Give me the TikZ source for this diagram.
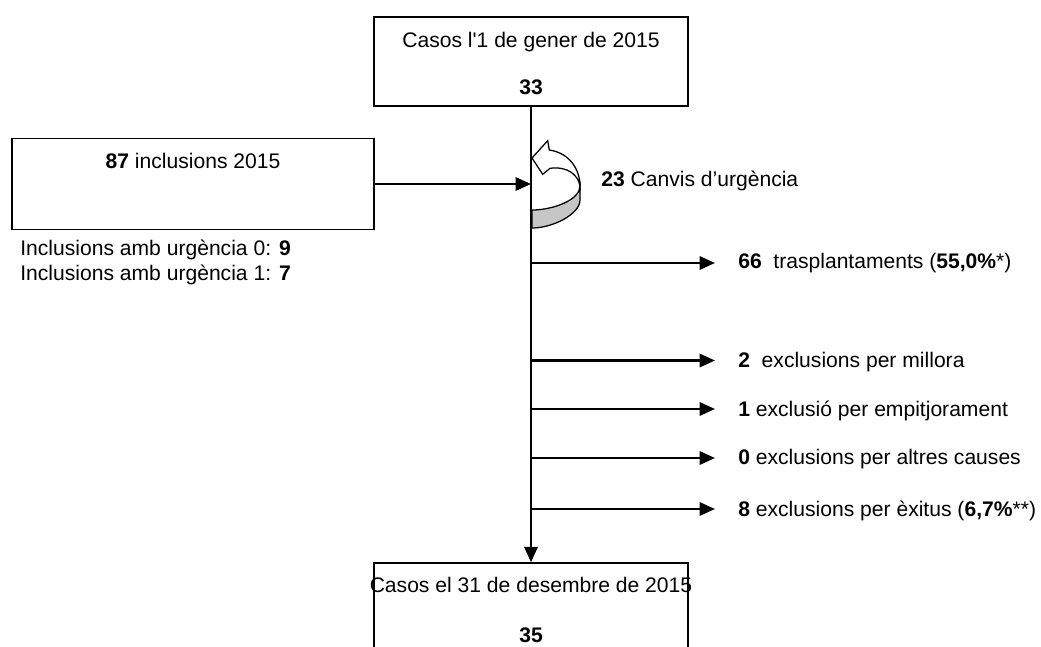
\documentclass[tikz,border=0pt]{standalone}
\usepackage{fontspec}
\setmainfont{Liberation Sans}[Ligatures=TeXOff]
\usetikzlibrary{arrows.meta}

\begin{document}
\begin{tikzpicture}[x=0.025cm, y=-0.025cm,
  every node/.style={font=\fontsize{15}{18}\selectfont, inner sep=0pt},
  box/.style={draw, line width=1pt},
  flow/.style={line width=1.7pt, -{Triangle[length=11pt, width=9.5pt]}},
  lbl/.style={anchor=base west}]
  \useasboundingbox (0,0) rectangle (1041,646);
  % draw the three boxes
  \node[box, minimum width=7.85cm, minimum height=2.225cm] (start) at (531,61.5) {};
  \node[box, minimum width=9.05cm, minimum height=2.275cm] (incl) at (193,184) {};
  \node[box, minimum width=7.85cm, minimum height=2.925cm] (final) at (531,621.5) {};
  \node[anchor=base] (start_txt) at (531,47) {Casos l'1 de gener de 2015};
  \node[anchor=base] (start_num) at (531,94) {\textbf{33}};
  \node[anchor=base] (incl_txt) at (193,168.3) {\textbf{87} inclusions 2015};
  \node[anchor=base] (final_txt) at (531,592.7) {Casos el 31 de desembre de 2015};
  \node[anchor=base] (final_num) at (531,642.7) {\textbf{35}};
  \node[anchor=north west, align=left, font=\fontsize{15}{17.2}\selectfont] (incl_urg) at (20,240) {Inclusions amb urgència 0: \textbf{9}\\Inclusions amb urgència 1: \textbf{7}};
  % draw circular arrow for urgency changes
  \draw[line width=0.9pt, fill=gray!45] (580,186) -- (580,200) .. controls (580,214) and (553,228) .. (532,228) -- (532,210) .. controls (553,210) and (580,200) .. (580,186) -- cycle;
  \draw[line width=0.9pt, fill=white] (532,158) -- (547.7,140.7) -- (549.3,150) .. controls (570,153) and (580,170) .. (580,186) .. controls (578,175) and (568,166) .. (550,168.3) -- (542.7,174.3) -- cycle;
  \node[lbl] (urg_txt) at (601,186.7) {\textbf{23} Canvis d’urgència};
  % main flow
  \coordinate (join) at (531,184);
  \draw[flow] (start.south) -- (final.north);
  \draw[flow] (incl.east) -- (join);
  % outflows
  \coordinate (out1_a) at (531,263);
  \coordinate (out1_b) at (715,263);
  \coordinate (out2_a) at (531,360.5);
  \coordinate (out2_b) at (715,360.5);
  \coordinate (out3_a) at (531,409);
  \coordinate (out3_b) at (715,409);
  \coordinate (out4_a) at (531,458);
  \coordinate (out4_b) at (715,458);
  \coordinate (out5_a) at (531,509);
  \coordinate (out5_b) at (715,509);
  \draw[flow] (out1_a) -- (out1_b);
  \draw[flow] (out2_a) -- (out2_b);
  \draw[flow] (out3_a) -- (out3_b);
  \draw[flow] (out4_a) -- (out4_b);
  \draw[flow] (out5_a) -- (out5_b);
  \node[lbl] (out1_txt) at (738,268.5) {\textbf{66}\ \ trasplantaments (\textbf{55,0\%}*)};
  \node[lbl] (out2_txt) at (738,367) {\textbf{2}\ \ exclusions per millora};
  \node[lbl] (out3_txt) at (738,416) {\textbf{1} exclusió per empitjorament};
  \node[lbl] (out4_txt) at (738,464.5) {\textbf{0} exclusions per altres causes};
  \node[lbl] (out5_txt) at (738,516) {\textbf{8} exclusions per èxitus (\textbf{6,7\%}**)};
\end{tikzpicture}
\end{document}
